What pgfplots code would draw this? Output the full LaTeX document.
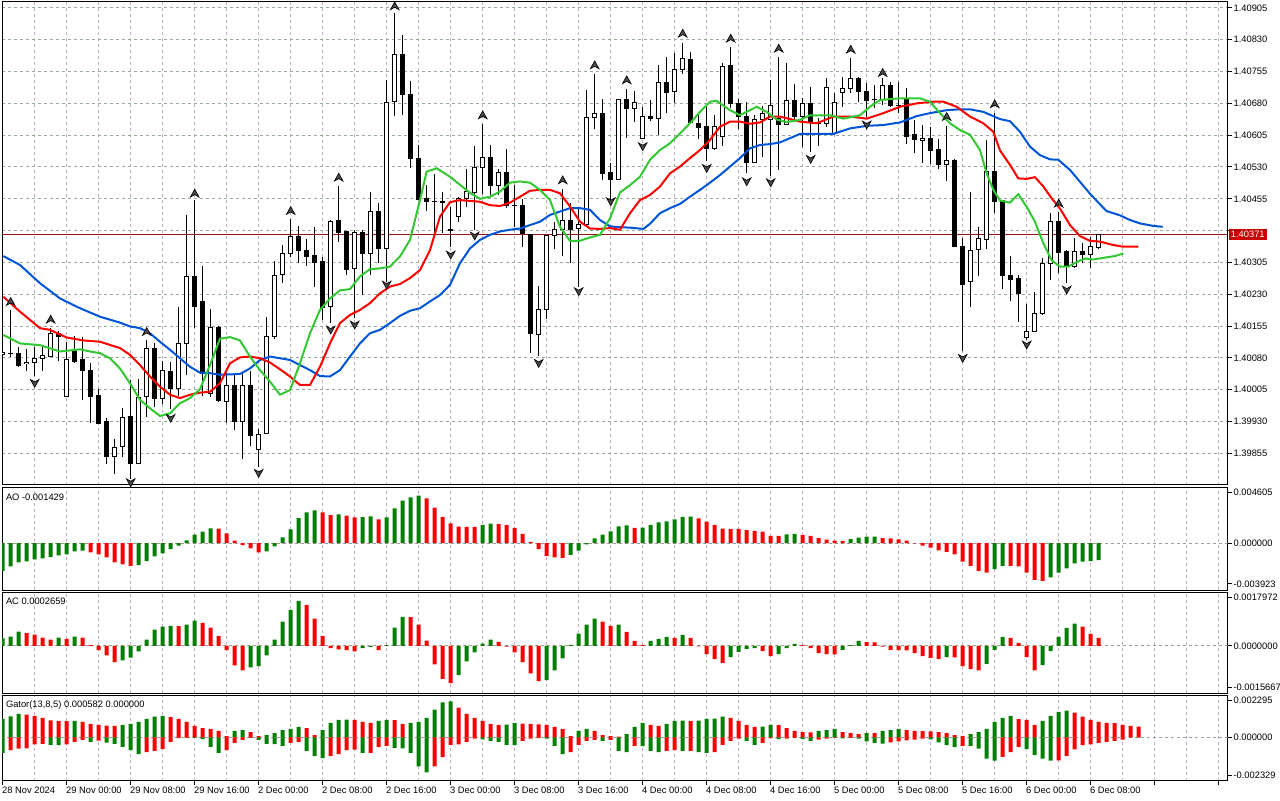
\documentclass[border=0pt]{standalone}
\usepackage{fontspec}
\setmainfont{Liberation Sans}
\usepackage{pgfplots}
\usepackage{pgfplotstable}
\pgfplotsset{compat=1.18}

\definecolor{jawc}{RGB}{0,85,215}
\definecolor{teethc}{RGB}{255,0,0}
\definecolor{lipsc}{RGB}{50,200,50}
\definecolor{bargreen}{RGB}{0,128,0}
\definecolor{barred}{RGB}{255,0,0}
\definecolor{vgrid}{RGB}{195,172,195}
\definecolor{hgrid}{RGB}{150,172,150}
\definecolor{zline}{RGB}{150,160,170}
\definecolor{pline}{RGB}{150,20,20}
\definecolor{pbox}{RGB}{200,0,0}
\newcommand\mtfont{\fontsize{7}{8.4}\selectfont}

\pgfdeclareplotmark{fup}{%
  \pgfpathmoveto{\pgfpoint{0pt}{3.0pt}}%
  \pgfpathlineto{\pgfpoint{3.2pt}{-2.8pt}}%
  \pgfpathlineto{\pgfpoint{0pt}{-1.0pt}}%
  \pgfpathlineto{\pgfpoint{-3.2pt}{-2.8pt}}%
  \pgfpathclose\pgfusepathqfillstroke}
\pgfdeclareplotmark{fdown}{%
  \pgfpathmoveto{\pgfpoint{0pt}{-3.0pt}}%
  \pgfpathlineto{\pgfpoint{3.2pt}{2.8pt}}%
  \pgfpathlineto{\pgfpoint{0pt}{1.0pt}}%
  \pgfpathlineto{\pgfpoint{-3.2pt}{2.8pt}}%
  \pgfpathclose\pgfusepathqfillstroke}

% prices in points above 1.40000 (1 point = 0.00001)
\pgfplotstableread{
k O H L C
0 88 99 84 92
1 91 193 83 91
2 91 106 59 62
3 66 102 48 70
4 70 106 36 79
5 79 106 50 86
6 84 150 81 138
7 138 144 73 130
8 -11 118 -11 75
9 95 132 67 71
10 75 128 -19 50
11 51 67 -73 -10
12 -8 6 -74 -74
13 -71 -62 -170 -153
14 -153 -112 -195 -131
15 -129 -38 -153 -60
16 -59 28 -205 -169
17 -169 29 -169 -13
18 -12 121 -60 102
19 102 116 -37 -16
20 -16 73 -30 50
21 47 71 -40 7
22 7 201 -11 114
23 114 416 40 272
24 272 452 150 201
25 212 297 -10 44
26 -4 196 -13 152
27 152 154 -23 -21
28 -22 44 -73 15
29 15 42 -90 -70
30 -70 44 -159 15
31 15 50 -129 -103
32 -136 -87 -177 -100
33 -98 177 -98 130
34 130 308 124 273
35 276 346 257 325
36 325 408 317 367
37 367 391 303 333
38 334 361 297 320
39 322 388 248 305
40 306 317 169 199
41 201 404 162 402
42 404 485 354 375
43 377 377 275 289
44 290 382 173 376
45 376 382 228 326
46 326 470 275 424
47 424 444 303 338
48 338 735 260 683
49 685 893 650 796
50 796 842 652 701
51 701 732 527 550
52 550 582 454 454
53 455 487 427 449
54 449 514 374 449
55 449 471 375 447
56 383 435 342 380
57 413 460 401 455
58 455 525 435 472
59 469 580 381 529
60 529 631 466 553
61 553 582 464 486
62 486 525 464 518
63 518 572 433 440
64 440 487 389 440
65 440 454 341 374
66 371 371 92 138
67 136 249 84 194
68 194 369 171 369
69 369 401 337 382
70 382 477 319 403
71 403 444 303 383
72 385 432 248 394
73 394 712 394 647
74 647 749 619 657
75 657 691 500 515
76 518 540 452 500
77 500 691 500 688
78 688 713 598 668
79 668 710 635 682
80 598 671 595 650
81 650 688 638 644
82 644 770 606 730
83 730 789 658 705
84 708 798 682 760
85 760 823 749 786
86 784 801 632 635
87 632 652 595 622
88 625 671 545 573
89 573 653 570 625
90 602 776 580 768
91 770 812 668 679
92 679 690 619 650
93 650 683 515 540
94 540 653 540 643
95 643 674 553 655
96 642 734 509 675
97 645 789 523 631
98 631 776 628 686
99 686 726 635 649
100 649 692 578 680
101 679 718 566 635
102 632 645 580 632
103 632 739 624 718
104 610 705 606 683
105 705 742 672 716
106 716 786 704 739
107 739 743 684 708
108 709 727 649 687
109 688 724 668 688
110 688 739 676 723
111 723 731 672 674
112 674 731 657 674
113 688 716 584 602
114 606 641 564 595
115 592 629 540 598
116 598 624 537 570
117 572 597 526 536
118 536 627 498 545
119 546 548 342 343
120 343 362 95 254
121 260 470 199 334
122 336 388 273 362
123 360 594 336 519
124 519 657 421 448
125 452 452 243 273
126 274 319 213 265
127 268 275 165 231
128 128 207 122 143
129 143 235 143 185
130 185 315 181 303
131 303 421 264 402
132 402 425 279 328
133 330 334 257 295
134 295 362 291 331
135 331 350 303 323
136 323 364 291 342
137 341 371 337 371
}\candles

\pgfplotstableread{
k v
0.08 320
2.16 299
4.66 256
7.16 220
9.66 197
12.16 177
14.66 163
15.91 154
17.16 150
18.41 138
19.66 118
20.91 99
22.16 79
23.41 59
24.66 45
25.91 44
27.16 40
29.66 42
30.91 55
32.16 75
33.41 83
34.66 79
35.91 75
37.16 63
38.41 51
39.66 37
40.91 36
42.16 51
43.41 83
44.66 114
45.91 138
47.16 146
48.41 162
49.66 179
50.91 191
52.16 197
53.41 213
54.66 228
55.91 252
57.16 303
58.41 338
59.66 358
60.91 370
62.16 378
63.41 382
64.66 385
65.91 393
67.16 401
68.41 417
69.66 425
70.91 433
72.16 433
73.41 429
74.66 405
75.91 390
77.16 388
78.41 387
80.08 384
80.91 396
82.16 421
83.41 433
84.66 443
85.91 460
87.16 476
88.41 493
89.66 511
90.91 531
92.16 551
93.41 574
94.66 582
95.91 584
97.16 588
98.41 598
99.66 608
103.83 608
105.91 621
107.99 627
110.08 629
112.16 635
114.24 650
115.91 657
117.99 664
119.66 666
120.91 666
122.58 660
124.66 643
125.91 638
127.16 613
128.41 578
129.66 558
130.91 548
131.95 547
133.41 523
134.66 495
135.91 467
137.16 442
137.99 426
139.66 416
140.91 405
142.16 397
143.83 391
145 389
}\jaw

\pgfplotstableread{
k v
0.08 224
2.16 189
4.66 150
5.91 146
8.0 128
10.08 121
12.16 118
14.66 103
15.91 87
17.16 63
18.41 36
19.66 12
20.91 -7
22.16 -15
23.41 -7
24.66 -2
25.91 0
27.16 20
28.41 67
29.66 81
30.91 83
32.16 79
33.41 69
34.66 53
35.91 36
37.16 16
38.41 16
39.66 59
40.91 114
42.16 162
43.41 181
44.66 193
45.91 209
47.16 232
48.41 248
49.66 254
50.91 268
52.16 287
53.41 334
54.66 413
55.91 447
57.16 452
58.41 450
59.66 448
60.91 440
62.16 438
63.41 446
64.66 460
65.91 474
67.16 476
68.41 476
69.66 468
70.91 437
72.16 401
73.41 385
74.66 384
75.91 386
77.16 382
78.41 421
79.66 452
80.91 464
82.16 484
83.41 515
84.66 531
85.91 551
87.16 570
88.41 594
89.66 625
90.91 637
92.16 637
93.41 632
94.66 635
95.91 649
97.16 649
98.41 643
99.66 637
101.74 633
103.83 649
105.91 649
107.99 644
110.08 657
112.16 672
114.24 680
116.33 684
117.58 684
119.24 672
120.91 649
122.58 633
123.83 613
124.66 569
125.91 535
126.95 503
127.99 502
129.03 506
130.08 484
131.12 456
132.16 432
133.41 393
134.66 367
135.91 356
137.16 354
138.83 346
140.08 342
141.95 342
}\teeth

\pgfplotstableread{
k v
0.08 134
2.16 114
4.66 110
7.16 95
9.66 100
10.91 95
12.16 91
13.41 79
14.66 55
15.91 20
17.16 -19
18.41 -39
19.66 -57
20.91 -51
22.16 -27
23.41 -15
24.66 6
25.91 63
27.16 125
28.41 129
29.66 121
30.91 83
32.16 51
33.41 24
34.66 -7
35.91 4
37.16 67
38.41 138
39.66 193
40.91 220
42.16 239
43.41 242
44.66 272
45.91 289
47.16 291
48.41 295
49.66 319
50.91 358
52.16 452
52.99 519
54.24 527
55.91 507
57.16 488
58.41 469
59.66 455
60.91 460
62.16 472
63.41 493
64.66 496
65.91 493
67.16 476
68.41 452
69.66 389
70.91 356
72.16 356
73.41 364
74.66 370
75.91 409
77.16 470
78.41 487
79.66 507
80.91 547
82.16 570
83.41 586
84.66 609
85.91 633
87.16 660
88.41 684
89.24 686
90.91 664
92.16 652
93.41 664
94.24 672
95.49 660
96.74 642
97.99 636
99.66 641
100.91 652
103.41 652
105.08 644
107.16 652
108.41 672
109.66 688
112.16 692
114.66 692
115.91 684
117.16 657
118.41 633
119.66 617
120.91 606
122.16 570
122.99 515
123.83 476
124.66 451
125.91 446
126.95 466
127.99 436
129.03 401
130.08 350
131.12 310
132.16 295
133.2 295
134.24 306
135.28 314
136.33 312
137.99 317
139.03 320
140.08 326
}\lips

\pgfplotstableread{
k v c
0 -0.00232 1
1 -0.00195 1
2 -0.00162 1
3 -0.00153 1
4 -0.00137 1
5 -0.00128 1
6 -0.00117 1
7 -0.00103 1
8 -0.00095 1
9 -0.00070 1
10 -0.00064 1
11 -0.00078 0
12 -0.00095 0
13 -0.00120 0
14 -0.00162 0
15 -0.00179 0
16 -0.00190 0
17 -0.00184 1
18 -0.00151 1
19 -0.00112 1
20 -0.00086 1
21 -0.00050 1
22 -0.00022 1
23 0.00022 1
24 0.00070 1
25 0.00095 1
26 0.00123 1
27 0.00121 0
28 0.00081 0
29 0.00020 0
30 -0.00017 0
31 -0.00045 0
32 -0.00078 0
33 -0.00070 1
34 -0.00028 1
35 0.00047 1
36 0.00114 1
37 0.00209 1
38 0.00257 1
39 0.00273 1
40 0.00257 0
41 0.00234 0
42 0.00240 1
43 0.00229 0
44 0.00215 0
45 0.00218 1
46 0.00223 1
47 0.00198 0
48 0.00215 1
49 0.00290 1
50 0.00354 1
51 0.00382 1
52 0.00396 1
53 0.00374 0
54 0.00296 0
55 0.00220 0
56 0.00165 0
57 0.00137 0
58 0.00136 0
59 0.00135 0
60 0.00153 1
61 0.00162 1
62 0.00161 0
63 0.00151 0
64 0.00128 0
65 0.00078 0
66 0.00011 0
67 -0.00050 0
68 -0.00106 0
69 -0.00120 0
70 -0.00123 0
71 -0.00098 1
72 -0.00064 1
73 -0.00011 1
74 0.00039 1
75 0.00070 1
76 0.00098 1
77 0.00140 1
78 0.00148 1
79 0.00128 0
80 0.00129 1
81 0.00153 1
82 0.00173 1
83 0.00181 1
84 0.00198 1
85 0.00220 1
86 0.00221 1
87 0.00206 0
88 0.00179 0
89 0.00153 0
90 0.00120 0
91 0.00119 0
92 0.00118 0
93 0.00109 0
94 0.00103 0
95 0.00095 0
96 0.00061 0
97 0.00060 0
98 0.00073 1
99 0.00078 1
100 0.00067 0
101 0.00061 0
102 0.00042 0
103 0.00028 0
104 0.00020 0
105 0.00019 0
106 0.00033 1
107 0.00045 1
108 0.00053 1
109 0.00054 1
110 0.00042 0
111 0.00039 0
112 0.00031 0
113 0.00020 0
114 -0.00002 0
115 -0.00022 0
116 -0.00039 0
117 -0.00061 0
118 -0.00073 0
119 -0.00095 0
120 -0.00156 0
121 -0.00190 0
122 -0.00232 0
123 -0.00246 0
124 -0.00218 1
125 -0.00190 1
126 -0.00191 0
127 -0.00195 0
128 -0.00246 0
129 -0.00307 0
130 -0.00315 0
131 -0.00287 1
132 -0.00246 1
133 -0.00212 1
134 -0.00170 1
135 -0.00155 1
136 -0.00150 1
137 -0.001429 1
}\aotab

\pgfplotstableread{
k v c
0 0.00025 1
1 0.00031 1
2 0.00048 1
3 0.00044 0
4 0.00038 0
5 0.00028 0
6 0.00021 0
7 0.00028 1
8 0.00024 0
9 0.00031 1
10 0.00028 0
11 0.00003 0
12 -0.00014 0
13 -0.00031 0
14 -0.00054 0
15 -0.00048 1
16 -0.00039 1
17 -0.00018 1
18 0.00021 1
19 0.00054 1
20 0.00064 1
21 0.00067 1
22 0.00066 0
23 0.00071 1
24 0.00084 1
25 0.00077 0
26 0.00061 0
27 0.00034 0
28 -0.00014 0
29 -0.00065 0
30 -0.00081 0
31 -0.00071 1
32 -0.00067 1
33 -0.00031 1
34 0.00021 1
35 0.00081 1
36 0.00120 1
37 0.00150 1
38 0.00137 0
39 0.00091 0
40 0.00034 0
41 -0.00007 0
42 -0.00011 0
43 -0.00014 0
44 -0.00018 0
45 -0.00007 1
46 -0.00003 1
47 -0.00014 0
48 0.00003 1
49 0.00061 1
50 0.00097 1
51 0.00096 0
52 0.00071 0
53 0.00018 0
54 -0.00061 0
55 -0.00110 0
56 -0.00124 0
57 -0.00097 1
58 -0.00051 1
59 -0.00021 1
60 0.00008 1
61 0.00021 1
62 0.00014 0
63 -0.00002 0
64 -0.00021 0
65 -0.00054 0
66 -0.00091 0
67 -0.00117 0
68 -0.00114 1
69 -0.00081 1
70 -0.00041 1
71 0.00004 1
72 0.00041 1
73 0.00071 1
74 0.00091 1
75 0.00081 0
76 0.00067 0
77 0.00071 1
78 0.00047 0
79 0.00017 0
80 0.00004 0
81 0.00017 1
82 0.00024 1
83 0.00030 1
84 0.00027 0
85 0.00037 1
86 0.00027 0
87 -0.00001 0
88 -0.00027 0
89 -0.00044 0
90 -0.00057 0
91 -0.00037 1
92 -0.00020 1
93 -0.00010 1
94 -0.00007 1
95 -0.00017 0
96 -0.00034 0
97 -0.00027 1
98 -0.00007 1
99 0.00007 1
100 0.00003 0
101 -0.00007 0
102 -0.00024 0
103 -0.00027 0
104 -0.00028 0
105 -0.00013 1
106 0.00003 1
107 0.00017 1
108 0.00013 0
109 0.00012 0
110 -0.00002 0
111 -0.00013 0
112 -0.00014 0
113 -0.00015 0
114 -0.00024 0
115 -0.00034 0
116 -0.00040 0
117 -0.00044 0
118 -0.00037 1
119 -0.00038 0
120 -0.00067 0
121 -0.00077 0
122 -0.00081 0
123 -0.00060 1
124 -0.00013 1
125 0.00030 1
126 0.00027 0
127 0.00010 0
128 -0.00037 0
129 -0.00081 0
130 -0.00064 1
131 -0.00017 1
132 0.00030 1
133 0.00060 1
134 0.00074 1
135 0.00064 0
136 0.00040 0
137 0.0002659 0
}\actab

\pgfplotstableread{
k up uc dn dc
0 0.00101 1 -0.00083 1
1 0.00114 1 -0.00068 0
2 0.00128 1 -0.00061 0
3 0.00123 0 -0.00059 0
4 0.00117 0 -0.00037 0
5 0.00106 0 -0.00035 0
6 0.00092 0 -0.00040 1
7 0.00090 0 -0.00042 1
8 0.00088 0 -0.00037 0
9 0.00090 1 -0.00024 0
10 0.00084 0 -0.00013 0
11 0.00073 0 -0.00024 1
12 0.00068 0 -0.00017 0
13 0.00064 0 -0.00028 1
14 0.00062 0 -0.00035 1
15 0.00068 1 -0.00051 1
16 0.00073 1 -0.00068 1
17 0.00084 1 -0.00090 1
18 0.00101 1 -0.00079 0
19 0.00112 1 -0.00073 0
20 0.00117 1 -0.00062 0
21 0.00110 0 -0.00024 0
22 0.00101 0 -0.00004 0
23 0.00084 0 -0.00002 0
24 0.00062 0 -0.00003 1
25 0.00051 0 -0.00009 1
26 0.00046 0 -0.00051 1
27 0.00035 0 -0.00084 1
28 0.00007 0 -0.00068 0
29 0.00035 1 -0.00029 0
30 0.00040 1 -0.00013 0
31 0.00029 0 -0.00002 0
32 0.00007 0 -0.00013 1
33 0.00013 1 -0.00035 1
34 0.00024 1 -0.00036 1
35 0.00040 1 -0.00046 1
36 0.00046 1 -0.00029 0
37 0.00057 1 -0.00024 0
38 0.00051 0 -0.00073 1
39 0.00013 0 -0.00101 1
40 0.00040 1 -0.00112 1
41 0.00079 1 -0.00101 0
42 0.00095 1 -0.00090 0
43 0.00096 1 -0.00068 0
44 0.00095 0 -0.00066 0
45 0.00084 0 -0.00084 1
46 0.00079 0 -0.00083 0
47 0.00090 1 -0.00051 0
48 0.00095 1 -0.00046 0
49 0.00094 0 -0.00057 1
50 0.00073 0 -0.00059 1
51 0.00079 1 -0.00084 1
52 0.00084 1 -0.00156 1
53 0.00106 1 -0.00189 1
54 0.00150 1 -0.00156 0
55 0.00189 1 -0.00106 0
56 0.00195 1 -0.00040 0
57 0.00161 0 -0.00037 0
58 0.00128 0 -0.00024 0
59 0.00106 0 -0.00007 0
60 0.00090 0 -0.00011 1
61 0.00073 0 -0.00018 1
62 0.00068 0 -0.00024 1
63 0.00069 1 -0.00040 1
64 0.00077 1 -0.00042 1
65 0.00075 0 -0.00018 0
66 0.00073 0 -0.00006 0
67 0.00070 0 -0.00004 0
68 0.00068 0 -0.00007 1
69 0.00057 0 -0.00046 1
70 0.00046 0 -0.00090 1
71 0.00007 0 -0.00079 0
72 0.00035 1 -0.00040 0
73 0.00047 1 -0.00018 0
74 0.00035 0 -0.00013 0
75 0.00013 0 -0.00018 1
76 0.00007 0 -0.00013 0
77 0.00004 0 -0.00073 1
78 0.00018 1 -0.00079 1
79 0.00057 1 -0.00046 0
80 0.00079 1 -0.00047 1
81 0.00068 0 -0.00073 1
82 0.00062 0 -0.00079 1
83 0.00073 1 -0.00073 0
84 0.00090 1 -0.00068 0
85 0.00091 1 -0.00073 1
86 0.00090 0 -0.00072 0
87 0.00091 1 -0.00079 1
88 0.00101 1 -0.00084 1
89 0.00102 1 -0.00079 0
90 0.00112 1 -0.00040 0
91 0.00106 0 -0.00018 0
92 0.00090 0 -0.00006 0
93 0.00068 0 -0.00018 1
94 0.00057 0 -0.00040 1
95 0.00058 1 -0.00029 0
96 0.00068 1 -0.00004 0
97 0.00067 0 -0.00009 1
98 0.00051 0 -0.00007 0
99 0.00035 0 -0.00003 0
100 0.00029 0 -0.00009 1
101 0.00028 0 -0.00018 1
102 0.00035 1 -0.00012 0
103 0.00040 1 -0.00006 0
104 0.00046 1 -0.00001 0
105 0.00029 0 -0.00005 1
106 0.00024 0 -0.00002 0
107 0.00018 0 -0.00006 1
108 0.00024 1 -0.00021 1
109 0.00023 0 -0.00030 1
110 0.00035 1 -0.00033 1
111 0.00040 1 -0.00027 0
112 0.00046 1 -0.00021 0
113 0.00040 0 -0.00016 0
114 0.00035 0 -0.00012 0
115 0.00034 0 -0.00007 0
116 0.00033 0 -0.00010 1
117 0.00029 0 -0.00027 1
118 0.00024 0 -0.00042 1
119 0.00013 0 -0.00052 1
120 0.00009 0 -0.00045 0
121 0.00018 1 -0.00046 1
122 0.00029 1 -0.00060 1
123 0.00046 1 -0.00115 1
124 0.00084 1 -0.00126 1
125 0.00106 1 -0.00105 0
126 0.00117 1 -0.00079 0
127 0.00099 0 -0.00051 0
128 0.00095 0 -0.00062 1
129 0.00068 0 -0.00095 1
130 0.00090 1 -0.00115 1
131 0.00117 1 -0.00125 1
132 0.00138 1 -0.00124 0
133 0.00145 1 -0.00101 0
134 0.00134 0 -0.00064 0
135 0.00112 0 -0.00042 0
136 0.00095 0 -0.00038 0
137 0.00084 0 -0.00030 0
138 0.00079 0 -0.00024 0
139 0.00078 0 -0.00018 0
140 0.00068 0 -0.00012 0
141 0.00062 0 0 0
142 0.000582 0 0 0
}\gatortab

\pgfplotsset{
  mtbase/.style={
    scale only axis, width=919.28pt, anchor=north west,
    xmin=-0.0875, xmax=153.125,
    axis line style={line width=0.75pt, black},
    xtick={0,4,...,152}, xticklabels={}, xtick style={draw=none},
    xmajorgrids,
    major x grid style={vgrid, line width=0.75pt, dash pattern=on 2.25pt off 2.25pt},
    ytick pos=right, tick align=outside, major tick length=3pt,
    ytick style={black, line width=0.75pt},
    yticklabel style={font=\mtfont, inner xsep=1.2pt},
    scaled y ticks=false,
  },
  zeroline/.style={zline, line width=0.75pt, dash pattern=on 2.25pt off 2.25pt},
  hbar/.style={ybar, bar width=3pt, bar shift=0pt, draw=none, fill=#1},
  ebar/.style 2 args={draw=none, mark=none, error bars/.cd, y dir=plus, y explicit, error mark=none,
    error bar style={draw=#1, line width=#2, line cap=butt}},
}

\begin{document}
\begin{tikzpicture}[x=1pt,y=1pt]
\path[use as bounding box] (0,0) rectangle (960,600);

% ---------------- main price panel ----------------
\begin{axis}[mtbase, at={(1.5pt,598.5pt)}, height=362.25pt,
  ymin=-219.8, ymax=919.15, clip mode=individual,
  ytick={-145,-70,5,80,155,230,305,380,455,530,605,680,755,830,905},
  yticklabels={1.39855,1.39930,1.40005,1.40080,1.40155,1.40230,1.40305,{},1.40455,1.40530,1.40605,1.40680,1.40755,1.40830,1.40905},
  ymajorgrids,
  major y grid style={hgrid, line width=0.75pt, dash pattern=on 2.25pt off 2.25pt},
]
\addplot[pline, line width=0.75pt] coordinates {(-1,371) (154,371)};
% wicks
\addplot[ebar={black}{0.75pt}]
  table[x=k, y=L, y error expr=\thisrow{H}-\thisrow{L}] {\candles};
% body outline / black body
\addplot[ebar={black}{3.75pt}]
  table[x=k, y expr={min(\thisrow{O},\thisrow{C})-1.18}, y error expr={abs(\thisrow{C}-\thisrow{O})+2.36}] {\candles};
% white body of rising candles
\addplot[ebar={white}{2.25pt}]
  table[x=k, y expr={ifthenelse(\thisrow{C}-\thisrow{O}>2.5, \thisrow{O}+1.18, -5000)},
   y error expr={ifthenelse(\thisrow{C}-\thisrow{O}>2.5, \thisrow{C}-\thisrow{O}-2.36, 0)}] {\candles};
% alligator
\addplot[jawc, line width=1.5pt] table[x=k, y=v] {\jaw};
\addplot[teethc, line width=1.5pt] table[x=k, y=v] {\teeth};
\addplot[lipsc, line width=1.5pt] table[x=k, y=v] {\lips};
% fractals
\addplot[only marks, mark=fup, mark options={fill=black!70, draw=black, line width=0.5pt}] coordinates {
(1,212.6) (6,170.9) (18,141.8) (24,468.0) (36,427.1) (42,505.7) (49,909.8) (60,652.7)
(70,499.5) (74,770.6) (78,735.3) (85,845.3) (91,833.5) (97,809.9) (106,807.6) (110,752.6)
(118,648.8) (124,678.7) (132,444.5)};
\addplot[only marks, mark=fdown, mark options={fill=black!70, draw=black, line width=0.5pt}] coordinates {
(4,20.0) (16,-214.2) (21,-62.5) (32,-192.2) (41,145.8) (44,157.5) (48,251.9) (56,322.6)
(59,367.4) (67,67.2) (72,236.2) (76,448.4) (80,578.1) (88,526.9) (93,495.5) (96,493.2)
(101,548.2) (108,629.2) (120,78.9) (128,110.4) (133,240.1)};
\node[anchor=west, fill=pbox, text=white, font=\mtfont, inner xsep=1.6pt, inner ysep=1.4pt, xshift=0.6pt]
  at (axis cs:153.125,371) {1.40371};
\end{axis}

% ---------------- AO ----------------
\begin{axis}[mtbase, at={(1.5pt,234pt)}, height=76.5pt,
  ymin=-0.003923, ymax=0.004605, clip mode=individual,
  ytick={-0.00342,0,0.00427}, yticklabels={-0.003923,0.000000,0.004605}]
\addplot[zeroline] coordinates {(-1,0) (154,0)};
\addplot[hbar=bargreen] table[x=k, y expr={ifthenelse(\thisrow{c}>0.5,\thisrow{v},0)}] {\aotab};
\addplot[hbar=barred] table[x=k, y expr={ifthenelse(\thisrow{c}<0.5,\thisrow{v},0)}] {\aotab};
\node[anchor=north west, font=\mtfont, inner sep=0pt, xshift=2.8pt, yshift=-4pt] at (rel axis cs:0,1) {AO -0.001429};
\end{axis}

% ---------------- AC ----------------
\begin{axis}[mtbase, at={(1.5pt,156pt)}, height=75.75pt,
  ymin=-0.0015667, ymax=0.0017972, clip mode=individual,
  ytick={-0.00139,0,0.00161}, yticklabels={-0.0015667,0.0000000,0.0017972}]
\addplot[zeroline] coordinates {(-1,0) (154,0)};
\addplot[hbar=bargreen] table[x=k, y expr={ifthenelse(\thisrow{c}>0.5,\thisrow{v},0)}] {\actab};
\addplot[hbar=barred] table[x=k, y expr={ifthenelse(\thisrow{c}<0.5,\thisrow{v},0)}] {\actab};
\node[anchor=north west, font=\mtfont, inner sep=0pt, xshift=2.8pt, yshift=-4pt] at (rel axis cs:0,1) {AC 0.0002659};
\end{axis}

% ---------------- Gator ----------------
\begin{axis}[mtbase, at={(1.5pt,78.75pt)}, height=64.125pt,
  ymin=-0.002329, ymax=0.002295, clip mode=individual,
  ytick={-0.00205,0,0.00202}, yticklabels={-0.002329,0.000000,0.002295},
  xtick={0,8,...,152}, minor xtick={4,12,...,148},
  xminorgrids,
  minor x grid style={vgrid, line width=0.75pt, dash pattern=on 2.25pt off 2.25pt},
  xtick pos=left, xtick style={draw=black, line width=0.75pt}, minor tick length=0pt,
  xticklabels={28 Nov 2024,29 Nov 00:00,29 Nov 08:00,29 Nov 16:00,2 Dec 00:00,2 Dec 08:00,2 Dec 16:00,3 Dec 00:00,3 Dec 08:00,3 Dec 16:00,4 Dec 00:00,4 Dec 08:00,4 Dec 16:00,5 Dec 00:00,5 Dec 08:00,5 Dec 16:00,6 Dec 00:00,6 Dec 08:00,{},{}},
  xticklabel style={font=\mtfont, anchor=north west, inner xsep=0pt, inner ysep=1.5pt, xshift=-0.6pt},
]
\addplot[zeroline] coordinates {(-1,0) (154,0)};
\addplot[hbar=bargreen] table[x=k, y expr={ifthenelse(\thisrow{uc}>0.5,\thisrow{up},0)}] {\gatortab};
\addplot[hbar=barred] table[x=k, y expr={ifthenelse(\thisrow{uc}<0.5,\thisrow{up},0)}] {\gatortab};
\addplot[hbar=bargreen] table[x=k, y expr={ifthenelse(\thisrow{dc}>0.5,\thisrow{dn},0)}] {\gatortab};
\addplot[hbar=barred] table[x=k, y expr={ifthenelse(\thisrow{dc}<0.5,\thisrow{dn},0)}] {\gatortab};
\node[anchor=north west, font=\mtfont, inner sep=0pt, xshift=2.8pt, yshift=-4pt] at (rel axis cs:0,1) {Gator(13,8,5) 0.000582 0.000000};
\end{axis}
\end{tikzpicture}
\end{document}
